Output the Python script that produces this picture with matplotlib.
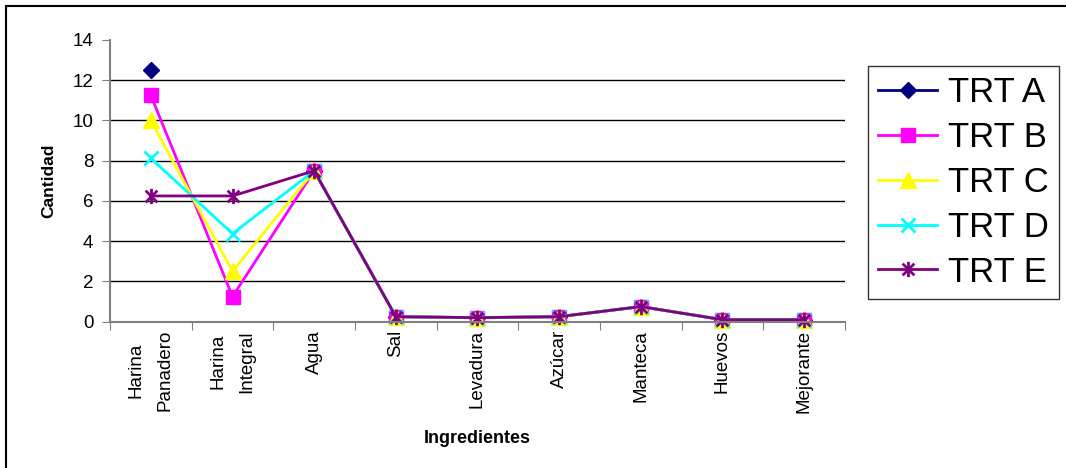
import numpy as np
import matplotlib
matplotlib.use('Agg')
import matplotlib.pyplot as plt
from matplotlib.path import Path
from matplotlib.patches import Rectangle

plt.rcParams['font.family'] = ['Liberation Sans', 'DejaVu Sans']

# datos
ingredientes = ['Harina\nPanadero', 'Harina\nIntegral', 'Agua', 'Sal', 'Levadura',
                'Azúcar', 'Manteca', 'Huevos', 'Mejorante']
trt_a = [12.5, np.nan, 7.5, 0.25, 0.2, 0.25, 0.75, 0.1, 0.1]
trt_b = [11.25, 1.25, 7.5, 0.25, 0.2, 0.25, 0.75, 0.1, 0.1]
trt_c = [10.0, 2.5, 7.5, 0.25, 0.2, 0.25, 0.75, 0.1, 0.1]
trt_d = [8.125, 4.375, 7.5, 0.25, 0.2, 0.25, 0.75, 0.1, 0.1]
trt_e = [6.25, 6.25, 7.5, 0.25, 0.2, 0.25, 0.75, 0.1, 0.1]
nombres = ['TRT A', 'TRT B', 'TRT C', 'TRT D', 'TRT E']

# marcador tipo asterisco de Excel (x + linea vertical)
star = Path([(-1, -1), (1, 1), (-1, 1), (1, -1), (0, -1.3), (0, 1.3)],
            [Path.MOVETO, Path.LINETO, Path.MOVETO, Path.LINETO, Path.MOVETO, Path.LINETO])

estilos = [
    dict(color='#000080', marker='D', markersize=8),
    dict(color='#FF00FF', marker='s', markersize=10),
    dict(color='#FFFF00', marker='^', markersize=11),
    dict(color='#00FFFF', marker='x', markersize=10, markeredgewidth=2),
    dict(color='#800080', marker=star, markersize=11, markeredgewidth=2),
]

fig = plt.figure(figsize=(10.66, 4.68), dpi=100)
ax = fig.add_axes([110 / 1066, 1 - 321.7 / 468, 735 / 1066, 281.7 / 468])

x = np.arange(1, len(ingredientes) + 1)
for serie, nombre, est in zip([trt_a, trt_b, trt_c, trt_d, trt_e], nombres, estilos):
    ax.plot(x, serie, linewidth=2, label=nombre, clip_on=False, **est)

ax.set_xlim(0.5, len(ingredientes) + 0.5)
ax.set_ylim(0, 14)
ax.set_yticks(range(0, 15, 2))
for yv in range(2, 14, 2):
    ax.axhline(yv, color='#000000', linewidth=1, zorder=0)

ax.set_xticks(np.arange(0.5, len(ingredientes) + 1, 1))
ax.set_xticklabels([])
ax.set_xticks(x, minor=True)
ax.set_xticklabels(ingredientes, minor=True, rotation=90, fontsize=13.5, linespacing=1.9,
                   va='top', ha='center')
ax.tick_params(axis='x', which='minor', length=0, pad=6)
ax.tick_params(axis='x', which='major', length=6, color='#808080')
ax.tick_params(axis='y', length=6, color='#808080', labelsize=13.5, pad=6)

for s in ['top', 'right']:
    ax.spines[s].set_visible(False)
for s in ['left', 'bottom']:
    ax.spines[s].set_color('#808080')
    ax.spines[s].set_linewidth(1.5)

ax.set_ylabel('Cantidad', fontsize=12.5, fontweight='bold', labelpad=12)
ax.set_xlabel('Ingredientes', fontsize=13, fontweight='bold', labelpad=12)

leg = fig.legend(loc='upper left', bbox_to_anchor=(868 / 1066, 1 - 66 / 468),
                 fontsize=25, frameon=True, fancybox=False, edgecolor='#000000',
                 handlelength=1.7, handletextpad=0.3, labelspacing=0.34,
                 borderpad=0.3, borderaxespad=0)
leg.get_frame().set_linewidth(1)

# marco exterior
fig.patches.append(Rectangle((6 / 1066, -0.1), 1.2, 1 - 6 / 468 + 0.1, transform=fig.transFigure,
                             fill=False, edgecolor='#000000', linewidth=1.5))

fig.savefig('out.png', dpi=100)
